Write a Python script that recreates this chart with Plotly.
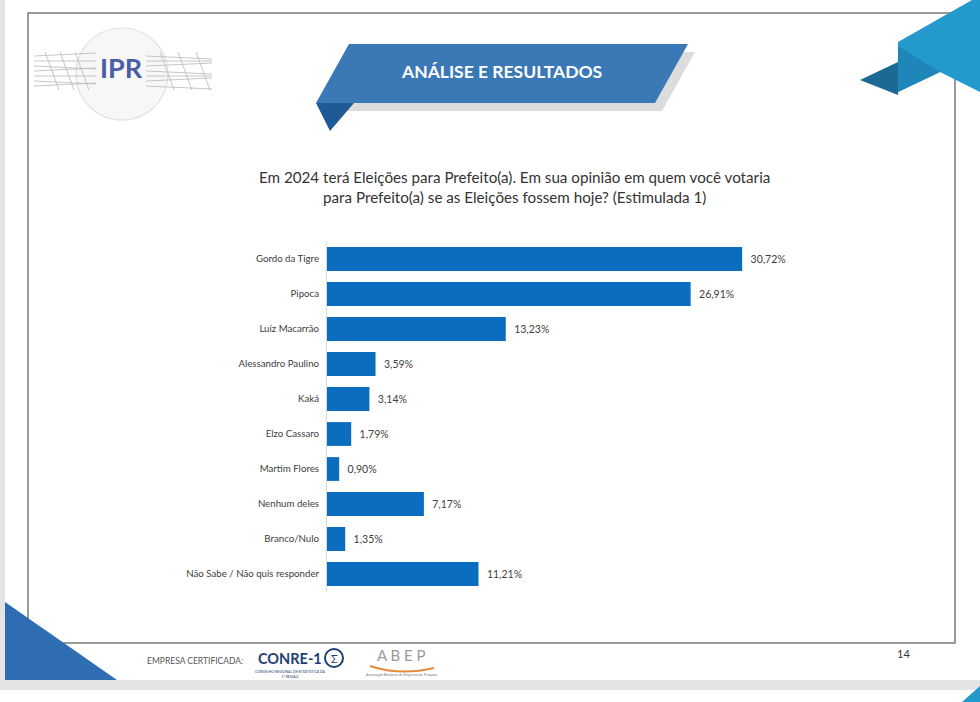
import plotly.graph_objects as go

# ---------------- data ----------------
categories = ["Gordo da Tigre", "Pipoca", "Luiz Macarrão", "Alessandro Paulino", "Kaká",
              "Elzo Cassaro", "Martim Flores", "Nenhum deles", "Branco/Nulo",
              "Não Sabe / Não quis responder"]
values = [30.72, 26.91, 13.23, 3.59, 3.14, 1.79, 0.90, 7.17, 1.35, 11.21]

title_text = ("Em 2024 terá Eleições para Prefeito(a). Em sua opinião em quem você votaria<br>"
              "para Prefeito(a) se as Eleições fossem hoje? (Estimulada 1)")

W, H = 980, 702
FONT = "Lato, Open Sans, sans-serif"


def px(x):
    return x / W


def py(y):
    return 1 - y / H


def poly(pts, color, opacity=1.0, line=None):
    d = "M " + " L ".join(f"{px(x):.5f},{py(y):.5f}" for x, y in pts) + " Z"
    return dict(type="path", path=d, xref="paper", yref="paper", fillcolor=color,
                opacity=opacity, line=line or dict(width=0), layer="below")


def rect(x0, y0, x1, y1, fill=None, line=None, layer="below"):
    return dict(type="rect", xref="paper", yref="paper", x0=px(x0), x1=px(x1),
                y0=py(y1), y1=py(y0), fillcolor=fill or "rgba(0,0,0,0)",
                line=line or dict(width=0), layer=layer)


def seg(x0, y0, x1, y1, color="#b8b8b8", w=1):
    return dict(type="line", xref="paper", yref="paper", x0=px(x0), y0=py(y0),
                x1=px(x1), y1=py(y1), line=dict(color=color, width=w), layer="below")


fig = go.Figure(go.Bar(
    x=values, y=categories, orientation="h",
    marker=dict(color="#0B6DC0", line=dict(width=0)),
    texttemplate="  %{x:.2f}%", textposition="outside", cliponaxis=False,
    textfont=dict(family=FONT, size=10.5, color="#404040"),
    width=0.68,
))

shapes = []
# slide background + gaps
shapes.append(rect(5, 0, 980, 680, fill="white"))
shapes.append(rect(0, 690, 980, 702, fill="white"))
# inner border
shapes.append(rect(28, 13, 955, 643, line=dict(color="#7a7a7a", width=1.5)))
# top-right teal decoration
shapes.append(poly([(898, 42), (972, 0), (980, 0), (980, 92), (940, 72), (898, 92)], "#2499cc"))
shapes.append(poly([(898, 46), (940, 72), (898, 92)], "#1e86b8"))
shapes.append(poly([(860, 80), (898, 62), (898, 95)], "#1b6a95"))
# bottom-left blue triangle
shapes.append(poly([(5, 602), (5, 680), (117, 680)], "#2f6db3"))
# bottom-right tiny teal corner of next slide
shapes.append(poly([(962, 702), (980, 686), (980, 702)], "#2499cc"))
# banner shadow, banner, tail
shapes.append(poly([(356, 52), (695, 52), (662, 111), (323, 111)], "#9a9a9a", opacity=0.35))
shapes.append(poly([(349, 44), (688, 44), (655, 103), (316, 103)], "#3b78b6"))
shapes.append(poly([(316, 103), (354, 103), (330, 131)], "#1d5a96"))
# IPR logo decoration
shapes.append(dict(type="circle", xref="paper", yref="paper", x0=px(76), x1=px(168),
                   y0=py(120), y1=py(28), line=dict(color="#e2e2e2", width=1.2),
                   fillcolor="rgba(240,240,240,0.5)", layer="below"))
for i, yy in enumerate(range(56, 90, 5)):
    shapes.append(seg(34, yy, 96, yy + (i % 3 - 1) * 3, w=0.8))
    shapes.append(seg(146, yy, 212, yy - (i % 3 - 1) * 3, w=0.8))
for xx in (45, 60, 75, 160, 178, 196):
    shapes.append(seg(xx, 52, xx + 14, 90, w=0.8))
# ABEP swoosh
shapes.append(dict(type="path", xref="paper", yref="paper",
                   path=f"M {px(370)},{py(666)} Q {px(400)},{py(676)} {px(434)},{py(668)}",
                   line=dict(color="#e58a3a", width=2), layer="below"))
# CONRE sigma circle
shapes.append(dict(type="circle", xref="paper", yref="paper", x0=px(325), x1=px(343),
                   y0=py(667), y1=py(649), line=dict(color="#1f3f73", width=2), layer="below"))

annotations = [
    dict(text=title_text, x=px(514), y=py(187), xref="paper", yref="paper",
         showarrow=False, font=dict(family=FONT, size=15.2, color="#333333"),
         align="center", xanchor="center", yanchor="middle"),
    dict(text="<b>ANÁLISE E RESULTADOS</b>", x=px(501), y=py(72), xref="paper", yref="paper",
         showarrow=False, font=dict(family=FONT, size=17.5, color="white"),
         xanchor="center", yanchor="middle"),
    dict(text="<b>IPR</b>", x=px(121), y=py(67), xref="paper", yref="paper",
         showarrow=False, font=dict(family=FONT, size=27, color="#4b5ea4"),
         xanchor="center", yanchor="middle"),
    dict(text="EMPRESA CERTIFICADA:", x=px(145), y=py(661), xref="paper", yref="paper",
         showarrow=False, font=dict(family=FONT, size=8.5, color="#555555"),
         xanchor="left", yanchor="middle"),
    dict(text="<b>CONRE-1</b>", x=px(256), y=py(658), xref="paper", yref="paper",
         showarrow=False, font=dict(family=FONT, size=14.5, color="#1f3f73"),
         xanchor="left", yanchor="middle"),
    dict(text="Σ", x=px(334), y=py(658), xref="paper", yref="paper",
         showarrow=False, font=dict(family=FONT, size=11, color="#1f3f73"),
         xanchor="center", yanchor="middle"),
    dict(text="CONSELHO REGIONAL DE ESTATÍSTICA DA<br>1ª REGIÃO", x=px(290), y=py(674),
         xref="paper", yref="paper", showarrow=False,
         font=dict(family=FONT, size=3.5, color="#1f3f73"), xanchor="center", yanchor="middle"),
    dict(text="A B E P", x=px(401), y=py(655), xref="paper", yref="paper",
         showarrow=False, font=dict(family=FONT, size=15, color="#9a9a9a"),
         xanchor="center", yanchor="middle"),
    dict(text="Associação Brasileira de Empresas de Pesquisa", x=px(401), y=py(675),
         xref="paper", yref="paper", showarrow=False,
         font=dict(family=FONT, size=3.5, color="#777777"), xanchor="center", yanchor="middle"),
    dict(text="14", x=px(903), y=py(653), xref="paper", yref="paper",
         showarrow=False, font=dict(family=FONT, size=11, color="#333333"),
         xanchor="center", yanchor="middle"),
]

fig.update_layout(
    width=W, height=H,
    margin=dict(l=0, r=0, t=0, b=0),
    paper_bgcolor="#e4e4e7",
    plot_bgcolor="rgba(0,0,0,0)",
    separators=",.",
    showlegend=False,
    shapes=shapes,
    annotations=annotations,
    xaxis=dict(domain=[px(327), px(800)], range=[0, 35], visible=False, fixedrange=True),
    yaxis=dict(domain=[py(591.5), py(241.5)], autorange="reversed",
               showline=True, linecolor="#d9d9d9", linewidth=1, ticks="",
               showgrid=False, zeroline=False, ticklabelstandoff=5,
               tickfont=dict(family=FONT, size=9.7, color="#404040")),
    bargap=0.32,
)

fig.write_html("out.html", config={"displayModeBar": False},
               post_script="document.body.style.margin='0px';document.body.style.padding='0px';")
